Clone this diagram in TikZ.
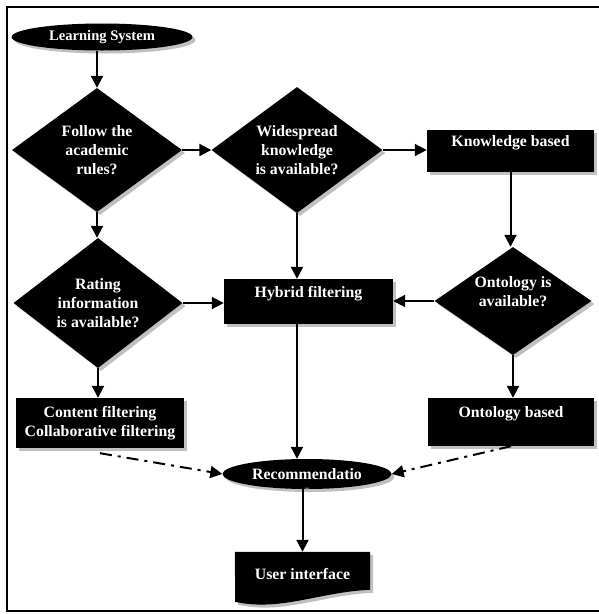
\documentclass[tikz,border=0pt]{standalone}
\usepackage{fontspec}
\setmainfont{Liberation Serif}
\usepackage{xcolor}
\definecolor{shd}{RGB}{192,192,192}
\usepackage{tikz}
\usetikzlibrary{arrows.meta,shapes,shadows,positioning,backgrounds}

\begin{document}
\begin{tikzpicture}[x=1pt,y=-1pt,
  txt/.style={text=white,font=\bfseries\fontsize{15.8}{19}\selectfont,align=center,inner sep=0pt},
  blk/.style={txt,fill=black,drop shadow={shadow xshift=3pt,shadow yshift=-3pt,fill=shd,opacity=1}},
  dec/.style={blk,diamond,shape aspect=1.4},
  proc/.style={blk,rectangle},
  term/.style={blk,ellipse},
  arr/.style={-{Triangle[length=12pt,width=12pt]},line width=2pt},
  dsh/.style={arr,dash pattern=on 12pt off 6pt on 3pt off 6pt}]
  \useasboundingbox (0,0) rectangle (598,614);
  \draw[line width=2pt] (7,7) rectangle (610,611);

  % top row
  \node[term,minimum width=181,minimum height=27,font=\bfseries\fontsize{14.6}{17}\selectfont] (ls) at (102,37) {Learning System};
  \node[dec,minimum width=170,minimum height=124] (d1) at (97,150) {Follow the\\academic\\rules?};
  \node[dec,minimum width=171,minimum height=126] (d2) at (297,150) {Widespread\\knowledge\\is available?};
  \node[proc,minimum width=167,minimum height=42] (kb) at (510.5,151) {Knowledge based\\\mbox{}};

  % middle row
  \node[dec,minimum width=169,minimum height=130] (d3) at (98,303) {Rating\\information\\is available?};
  \node[proc,minimum width=169,minimum height=45] (hf) at (308.5,301.5) {Hybrid filtering\\\mbox{}};
  \node[dec,minimum width=157,minimum height=108] (d4) at (513,301) {Ontology is\\available?\\\mbox{}};

  % bottom
  \node[proc,minimum width=168,minimum height=50] (cf) at (100,423) {Content filtering\\Collaborative filtering};
  \node[proc,minimum width=166,minimum height=48] (ob) at (511,422) {Ontology based\\\mbox{}};
  \node[term,minimum width=169,minimum height=30,
    label={[txt,yshift=-15pt]center:{\fontsize{8}{8}\selectfont --}}] (rec) at (307,474) {Recommendatio};
  \node[txt,minimum width=135,minimum height=44] (ui) at (302.5,574) {User interface};
  \begin{scope}[on background layer]
    \path[blk] (ui.north west) -- (ui.north east) -- ++(0,38)
      .. controls +(-50,2) and +(45,10) .. ++(-135,12) -- cycle;
  \end{scope}

  % connectors
  \draw[arr] (d1.north |- ls.south) -- (d1.north);
  \draw[arr] (d1.east) -- (d2.west);
  \draw[arr] (d2.east) -- (kb.west |- d2.east);
  \draw[arr] (kb.south) -- (kb.south |- d4.north);
  \draw[arr] (d1.south) -- (d1.south |- d3.north);
  \draw[arr] (d2.south) -- (d2.south |- hf.north);
  \draw[arr] (d3.east) -- (d3.east -| hf.west);
  \draw[arr] (d4.west) -- (d4.west -| hf.east);
  \draw[arr] (d3.south) -- (d3.south |- cf.north);
  \draw[arr] (d4.south) -- (d4.south |- ob.north);
  \draw[arr] (hf.south -| d2.south) -- (d2.south |- rec.north);
  \draw[arr] (ui.north |- rec.south) -- (ui.north);
  \draw[dsh] ([yshift=-5pt]cf.south) -- (rec.west);
  \draw[dsh] (ob.south) -- (rec.east);
\end{tikzpicture}
\end{document}
